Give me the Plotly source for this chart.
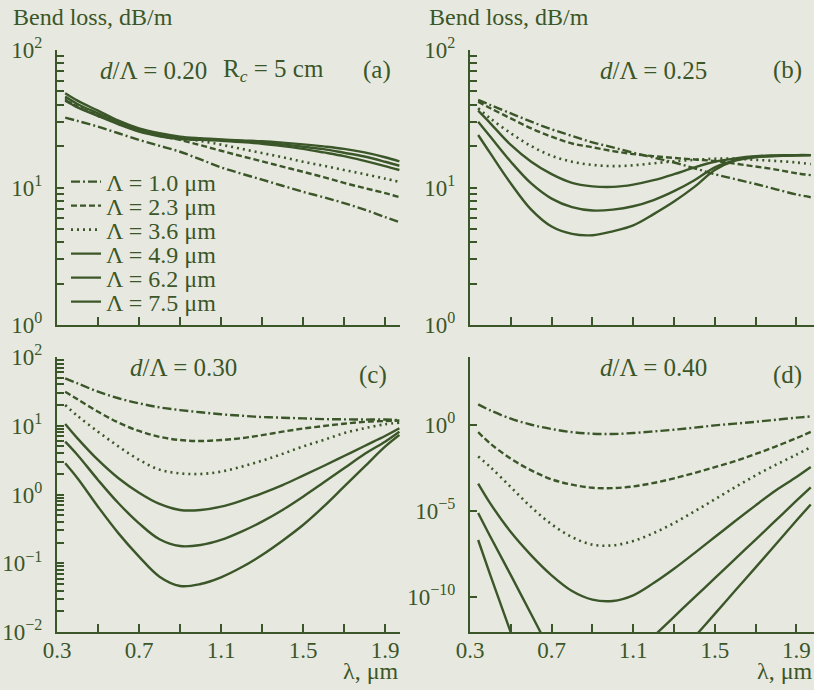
import plotly.graph_objects as go

# ---------------- data ----------------
wavelength = [0.34, 0.4, 0.5, 0.6, 0.7, 0.8, 0.9, 1.0, 1.1, 1.2, 1.3, 1.4, 1.5, 1.6, 1.7, 1.8, 1.9, 1.97]
pitch_labels = ["Λ = 1.0 μm", "Λ = 2.3 μm", "Λ = 3.6 μm", "Λ = 4.9 μm", "Λ = 6.2 μm", "Λ = 7.5 μm"]

# (a) d/Λ = 0.20
a_1p0 = [32.2, 30.5, 27.7, 24.8, 22.2, 20.1, 18.2, 16.0, 14.0, 12.6, 11.4, 10.3, 9.3, 8.5, 7.7, 6.9, 6.1, 5.6]
a_2p3 = [43.3, 38.7, 33.3, 29.3, 25.9, 23.8, 22.2, 20.3, 18.5, 16.9, 15.5, 14.2, 13.0, 11.9, 10.8, 9.9, 9.1, 8.5]
a_3p6 = [44.6, 39.8, 34.3, 30.0, 26.5, 24.4, 22.8, 21.8, 20.5, 19.1, 17.8, 16.6, 15.4, 14.4, 13.4, 12.5, 11.6, 11.0]
a_4p9 = [42.8, 38.3, 33.1, 28.8, 25.5, 23.6, 22.5, 22.2, 21.9, 21.4, 20.8, 20.0, 19.1, 18.0, 16.9, 15.6, 14.3, 13.4]
a_6p2 = [45.8, 40.5, 34.6, 29.6, 26.2, 24.1, 22.9, 22.4, 22.2, 21.8, 21.3, 20.6, 19.8, 19.0, 17.9, 16.8, 15.4, 14.4]
a_7p5 = [48.4, 42.8, 36.2, 30.6, 26.9, 24.8, 23.4, 22.8, 22.4, 22.0, 21.7, 21.2, 20.6, 19.9, 19.1, 18.0, 16.6, 15.5]

# (b) d/Λ = 0.25
b_1p0 = [43.3, 39.8, 34.6, 30.1, 26.5, 23.7, 21.3, 19.6, 17.9, 16.5, 15.2, 13.8, 12.5, 11.5, 10.6, 9.7, 8.9, 8.5]
b_2p3 = [42.1, 37.7, 31.8, 26.9, 23.4, 20.9, 19.6, 18.4, 17.5, 16.9, 16.4, 16.0, 15.6, 14.9, 14.2, 13.5, 12.7, 12.3]
b_3p6 = [37.7, 31.8, 24.8, 20.0, 17.0, 15.4, 14.6, 14.3, 14.5, 15.0, 15.5, 15.9, 16.2, 16.2, 15.9, 15.6, 15.2, 14.8]
b_4p9 = [36.2, 29.3, 20.4, 15.4, 12.5, 10.8, 10.2, 10.1, 10.5, 11.3, 12.5, 14.0, 15.4, 16.3, 16.9, 17.1, 17.2, 17.2]
b_6p2 = [30.1, 23.4, 15.4, 10.7, 8.3, 7.2, 6.8, 6.9, 7.3, 8.1, 9.4, 11.3, 14.0, 15.8, 16.8, 17.0, 17.2, 17.2]
b_7p5 = [24.1, 17.7, 10.7, 6.9, 5.2, 4.6, 4.5, 4.8, 5.3, 6.4, 7.9, 10.1, 13.4, 15.7, 16.6, 16.9, 17.1, 17.2]

# (c) d/Λ = 0.30
c_1p0 = [49.0, 41.4, 31.3, 25.1, 21.2, 18.5, 16.9, 15.7, 14.7, 14.0, 13.4, 13.1, 12.8, 12.5, 12.4, 12.3, 12.3, 12.1]
c_2p3 = [31.3, 24.3, 16.0, 11.1, 8.4, 6.9, 6.2, 6.0, 6.2, 6.6, 7.3, 8.2, 9.1, 9.9, 10.7, 11.4, 11.7, 11.9]
c_3p6 = [20.0, 13.9, 8.2, 5.0, 3.2, 2.3, 2.03, 1.99, 2.15, 2.54, 3.1, 3.9, 5.0, 6.2, 7.8, 9.2, 10.5, 11.1]
c_4p9 = [10.6, 6.56, 3.18, 1.72, 1.06, 0.728, 0.596, 0.596, 0.665, 0.814, 1.04, 1.37, 1.88, 2.60, 3.63, 5.08, 7.1, 9.2]
c_6p2 = [5.87, 3.76, 1.63, 0.745, 0.381, 0.223, 0.178, 0.184, 0.218, 0.288, 0.403, 0.596, 0.93, 1.49, 2.40, 3.88, 5.87, 8.2]
c_7p5 = [2.84, 1.72, 0.665, 0.272, 0.125, 0.0638, 0.0467, 0.0499, 0.0624, 0.0873, 0.132, 0.213, 0.36, 0.665, 1.30, 2.54, 4.97, 7.35]

# (d) d/Λ = 0.40
d_1p0 = [15.1, 6.76, 2.24, 1.0, 0.562, 0.372, 0.302, 0.288, 0.331, 0.407, 0.513, 0.676, 0.912, 1.15, 1.48, 1.95, 2.57, 3.02]
d_2p3 = [0.372, 0.0794, 0.0107, 2.24e-3, 6.76e-4, 3.31e-4, 2.19e-4, 2.09e-4, 2.63e-4, 4.17e-4, 7.76e-4, 1.58e-3, 3.47e-3, 7.76e-3, 0.0200, 0.0562, 0.166, 0.380]
d_3p6 = [1.45e-2, 3.47e-3, 2.40e-4, 1.66e-5, 1.66e-6, 3.02e-7, 1.10e-7, 1.0e-7, 1.78e-7, 5.13e-7, 1.95e-6, 9.33e-6, 4.68e-5, 2.40e-4, 1.15e-3, 4.79e-3, 1.82e-2, 5.01e-2]
d_4p9 = [3.80e-4, 2.63e-5, 5.89e-7, 2.63e-8, 1.82e-9, 2.24e-10, 7.08e-11, 5.89e-11, 1.26e-10, 6.46e-10, 4.37e-9, 3.55e-8, 3.02e-7, 2.57e-6, 2.09e-5, 1.55e-4, 9.12e-4, 3.47e-3]
d_6p2 = [7.59e-6, 3.16e-7, 1.86e-9, 1.0e-11, 6.31e-14, 1.58e-15, 3.16e-16, 5.01e-16, 3.98e-14, 5.25e-13, 7.08e-12, 9.55e-11, 1.23e-9, 1.66e-8, 2.14e-7, 2.88e-6, 3.89e-5, 2.34e-4]
d_7p5 = [2.04e-7, 1.82e-9, 8.71e-13, 3.98e-16, 5.01e-18, 1e-18, 1e-18, 3.16e-18, 3.16e-17, 1e-15, 2.09e-14, 4.79e-13, 1.05e-11, 2.40e-10, 5.25e-9, 1.20e-7, 2.75e-6, 2.34e-5]

x_tick_vals = [0.3, 0.5, 0.7, 0.9, 1.1, 1.3, 1.5, 1.7, 1.9]
x_tick_text = ["0.3", " ", "0.7", " ", "1.1", " ", "1.5", " ", "1.9"]

# ---------------- style ----------------
INK = "#3b5628"
PAPER = "#e7e9e0"
FONT = "Liberation Serif"
dashes = ["9px,3px,2px,3px", "6px,3px", "2px,4px", "solid", "solid", "solid"]
widths = [2.4, 2.4, 2.6, 2.4, 2.4, 2.4]
legend_ids = ["legend", "legend2", "legend3", "legend4", "legend5", "legend6"]

panels = [
    ("x", "y", [a_1p0, a_2p3, a_3p6, a_4p9, a_6p2, a_7p5]),
    ("x2", "y2", [b_1p0, b_2p3, b_3p6, b_4p9, b_6p2, b_7p5]),
    ("x3", "y3", [c_1p0, c_2p3, c_3p6, c_4p9, c_6p2, c_7p5]),
    ("x4", "y4", [d_1p0, d_2p3, d_3p6, d_4p9, d_6p2, d_7p5]),
]

fig = go.Figure()
for pi, (xa, ya, series) in enumerate(panels):
    for si, vals in enumerate(series):
        fig.add_trace(go.Scatter(
            x=wavelength, y=vals, xaxis=xa, yaxis=ya, mode="lines",
            line=dict(color=INK, width=widths[si], dash=dashes[si], shape="spline", smoothing=1.0),
            name=pitch_labels[si], showlegend=(pi == 0), legend=legend_ids[si], hoverinfo="skip",
        ))

W, H = 814, 690
def fx(px): return px / W
def fy(py): return 1 - py / H

left_dom = [fx(57), fx(400)]
right_dom = [fx(470), 1.0]
top_dom = [fy(325), fy(50)]
bot_dom = [fy(632), fy(357)]

def sup(n):
    return "10<sup>%s</sup>" % (str(n).replace("-", "−"))

def log_ticks(lo, hi, minors=True):
    vals, text = [], []
    for e in range(lo, hi + 1):
        vals.append(10.0 ** e); text.append(sup(e))
        if minors and e < hi:
            for m in range(2, 10):
                vals.append(m * 10.0 ** e); text.append(" ")
    return vals, text

common_x = dict(showline=True, linecolor=INK, linewidth=2, ticks="inside", ticklen=8,
                tickwidth=2, tickcolor=INK, showgrid=False, zeroline=False, automargin=False,
                tickvals=x_tick_vals, ticktext=x_tick_text, layer="above traces",
                tickfont=dict(family=FONT, size=23, color=INK), ticklabelstandoff=-4)
common_y = dict(type="log", showline=True, linecolor=INK, linewidth=2, ticks="inside", ticklen=7,
                tickwidth=2, tickcolor=INK, showgrid=False, zeroline=False, automargin=False,
                layer="above traces",
                tickfont=dict(family=FONT, size=23, color=INK), ticklabelstandoff=8)

tv_ab, tt_ab = log_ticks(0, 2)
tv_c, tt_c = log_ticks(-2, 2)
tv_d = [1e-10, 1e-5, 1.0]
tt_d = [sup(-10), sup(-5), sup(0)]

legend_rows = [182, 206, 230, 254, 278, 302]
legends = {}
for lid, row in zip(legend_ids, legend_rows):
    legends[lid] = dict(x=fx(66), y=fy(row), xanchor="left", yanchor="middle",
                        bgcolor="rgba(0,0,0,0)", borderwidth=0, itemwidth=30,
                        font=dict(family=FONT, size=24, color=INK))

fig.update_layout(
    width=W, height=H, autosize=False, margin=dict(l=0, r=0, t=0, b=0, pad=0, autoexpand=False),
    paper_bgcolor=PAPER, plot_bgcolor=PAPER,
    font=dict(family=FONT, color=INK, size=22),
    xaxis=dict(domain=left_dom, range=[0.3, 1.973], anchor="y", showticklabels=False, **common_x),
    yaxis=dict(domain=top_dom, range=[0, 2], anchor="x", tickvals=tv_ab, ticktext=tt_ab, **common_y),
    xaxis2=dict(domain=right_dom, range=[0.3, 1.986], anchor="y2", showticklabels=False, **common_x),
    yaxis2=dict(domain=top_dom, range=[0, 2], anchor="x2", tickvals=tv_ab, ticktext=tt_ab, **common_y),
    xaxis3=dict(domain=left_dom, range=[0.3, 1.973], anchor="y3", **common_x),
    yaxis3=dict(domain=bot_dom, range=[-2, 2], anchor="x3", tickvals=tv_c, ticktext=tt_c, **common_y),
    xaxis4=dict(domain=right_dom, range=[0.3, 1.986], anchor="y4", **common_x),
    yaxis4=dict(domain=bot_dom, range=[-12.03, 3.93], anchor="x4", tickvals=tv_d, ticktext=tt_d, **common_y),
    showlegend=True,
    **legends,
)

def note(text, px, py, xanchor="left", size=25):
    fig.add_annotation(text=text, x=fx(px), y=fy(py), xref="paper", yref="paper",
                       xanchor=xanchor, yanchor="middle", showarrow=False, borderpad=0,
                       font=dict(family=FONT, size=size, color=INK))

note("Bend loss, dB/m", 12, 17, size=24)
note("Bend loss, dB/m", 428, 17, size=24)
note("<i>d</i>/Λ = 0.20", 99, 70)
note("R<sub><i>c</i></sub> = 5 cm", 222, 70)
note("(a)", 362, 70)
note("<i>d</i>/Λ = 0.25", 599, 70)
note("(b)", 772, 70)
note("<i>d</i>/Λ = 0.30", 129, 367)
note("(c)", 358, 375)
note("<i>d</i>/Λ = 0.40", 599, 367)
note("(d)", 772, 375)
note("λ, μm", 400, 671, xanchor="right", size=24)
note("λ, μm", 814, 671, xanchor="right", size=24)

fig.write_html("out.html", config={"displayModeBar": False},
               post_script="document.body.style.margin='0';document.body.style.overflow='hidden';")
